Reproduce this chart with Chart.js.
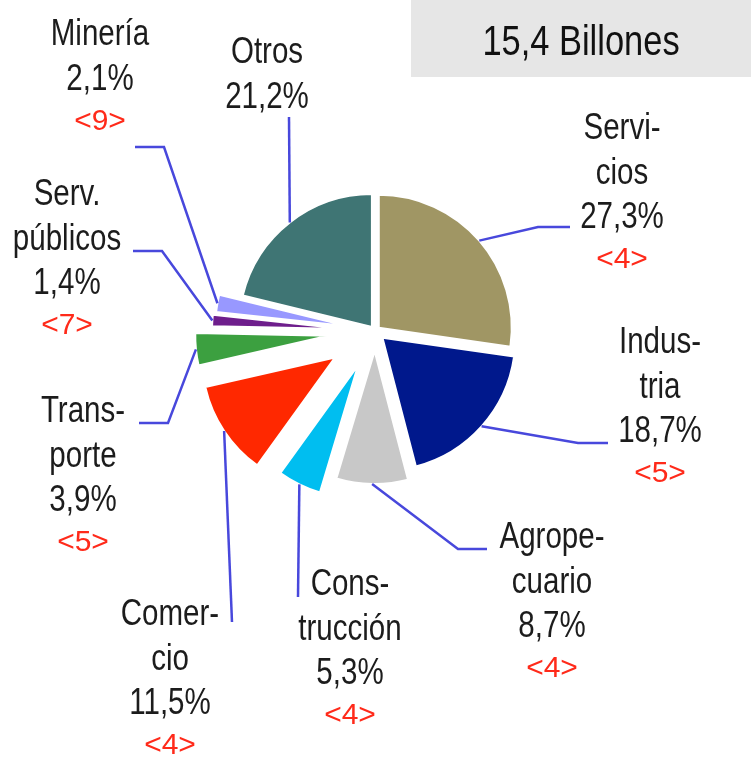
<!DOCTYPE html>
<html lang="es">
<head>
<meta charset="utf-8">
<title>Participación por sector</title>
<script src="https://cdn.jsdelivr.net/npm/chart.js@4.4.1/dist/chart.umd.min.js"></script>
<style>
  html, body { margin: 0; padding: 0; background: #fff; }
  canvas { display: block; }
</style>
</head>
<body>
<canvas id="grafico" width="751" height="757"></canvas>
<script>
// datos
var sectores = ['Servicios', 'Industria', 'Agropecuario', 'Construcción', 'Comercio',
                'Transporte', 'Serv. públicos', 'Minería', 'Otros'];
var participacion = [27.3, 18.7, 8.7, 5.3, 11.5, 3.9, 1.4, 2.1, 21.2];
var rezago = ['<4>', '<5>', '<4>', '<4>', '<4>', '<5>', '<7>', '<9>', null];
var nombres = [['Servi-', 'cios'], ['Indus-', 'tria'], ['Agrope-', 'cuario'], ['Cons-', 'trucción'],
               ['Comer-', 'cio'], ['Trans-', 'porte'], ['Serv.', 'públicos'], ['Minería'], ['Otros']];
var total = '15,4 Billones';

// estilo
var colores = ['#a09664', '#00188c', '#c8c8c8', '#00bef0', '#ff2800',
               '#3ca040', '#6e1e8c', '#9898ff', '#3f7574'];
var separacion = [5, 10, 20, 38, 48, 47, 30, 27, 5];
// posicion de cada rotulo: x centro, y primera linea, codo y final de la guia
var posiciones = [
  { x: 622, y: 139, codo: [538, 227], fin: [570, 227] },
  { x: 660, y: 353, codo: [578, 443], fin: [608, 443] },
  { x: 552, y: 548, codo: [458, 549], fin: [487, 549] },
  { x: 350, y: 595, codo: null, fin: [298, 597] },
  { x: 170, y: 625, codo: null, fin: [232, 622] },
  { x: 83,  y: 422, codo: [168, 423], fin: [139, 423] },
  { x: 67,  y: 205, codo: [162, 251], fin: [133, 251] },
  { x: 100, y: 45,  codo: [164, 147], fin: [135, 147] },
  { x: 267, y: 63,  codo: null, fin: [289, 117] }
];

var hayNarrow = (function () {
  var c = document.createElement('canvas').getContext('2d');
  c.font = '36px monospace';
  var w0 = c.measureText('Billones Minería').width;
  c.font = '36px "Liberation Sans Narrow", monospace';
  return Math.abs(c.measureText('Billones Minería').width - w0) > 0.5;
})();

function texto(ctx, t, x, y, size, color, angosto) {
  ctx.save();
  ctx.fillStyle = color;
  ctx.textAlign = 'center';
  ctx.textBaseline = 'alphabetic';
  if (angosto && hayNarrow) {
    ctx.font = size + 'px "Liberation Sans Narrow", "Arial Narrow", sans-serif';
    ctx.fillText(t, x, y);
  } else if (angosto) {
    ctx.font = size + 'px "Liberation Sans", Arial, sans-serif';
    ctx.translate(x, y);
    ctx.scale(0.82, 1);
    ctx.fillText(t, 0, 0);
  } else {
    ctx.font = size + 'px "Liberation Sans", Arial, sans-serif';
    ctx.fillText(t, x, y);
  }
  ctx.restore();
}

function pct(v) {
  return v.toFixed(1).replace('.', ',') + '%';
}

var explotar = {
  id: 'explotar',
  afterDatasetsUpdate: function (chart) {
    var meta = chart.getDatasetMeta(0);
    meta.data.forEach(function (arc, i) {
      var mid = (arc.startAngle + arc.endAngle) / 2;
      arc.x += Math.cos(mid) * separacion[i];
      arc.y += Math.sin(mid) * separacion[i];
    });
  }
};

var rotulos = {
  id: 'rotulos',
  beforeDraw: function (chart) {
    var ctx = chart.ctx;
    ctx.save();
    ctx.fillStyle = '#e6e6e6';
    ctx.fillRect(411, 0, 340, 77);
    ctx.restore();
    texto(ctx, total, 581, 55, 42, '#111', true);
  },
  afterDatasetsDraw: function (chart) {
    var ctx = chart.ctx;
    var meta = chart.getDatasetMeta(0);
    meta.data.forEach(function (arc, i) {
      var p = posiciones[i];
      var mid = (arc.startAngle + arc.endAngle) / 2;
      var x0 = arc.x + Math.cos(mid) * arc.outerRadius;
      var y0 = arc.y + Math.sin(mid) * arc.outerRadius;
      ctx.save();
      ctx.strokeStyle = '#4848dc';
      ctx.lineWidth = 2.5;
      ctx.beginPath();
      ctx.moveTo(x0, y0);
      if (p.codo) ctx.lineTo(p.codo[0], p.codo[1]);
      ctx.lineTo(p.fin[0], p.fin[1]);
      ctx.stroke();
      ctx.restore();

      var lineas = nombres[i].concat([pct(participacion[i])]);
      lineas.forEach(function (t, k) {
        texto(ctx, t, p.x, p.y + k * 44.5, 36, '#1c1c1c', true);
      });
      if (rezago[i]) {
        texto(ctx, rezago[i], p.x, p.y + (lineas.length - 1) * 44.5 + 40, 30, '#ff2a1a', false);
      }
    });
  }
};

var ctx = document.getElementById('grafico').getContext('2d');
var grafico = new Chart(ctx, {
  type: 'pie',
  data: {
    labels: sectores,
    datasets: [{
      data: participacion,
      backgroundColor: colores,
      borderColor: '#ffffff',
      borderWidth: 2
    }]
  },
  options: {
    responsive: false,
    animation: false,
    radius: 133,
    layout: { padding: { left: 0, right: 1, top: 0, bottom: 95 } },
    plugins: {
      legend: { display: false },
      tooltip: { enabled: false }
    }
  },
  plugins: [explotar, rotulos]
});
</script>
</body>
</html>
